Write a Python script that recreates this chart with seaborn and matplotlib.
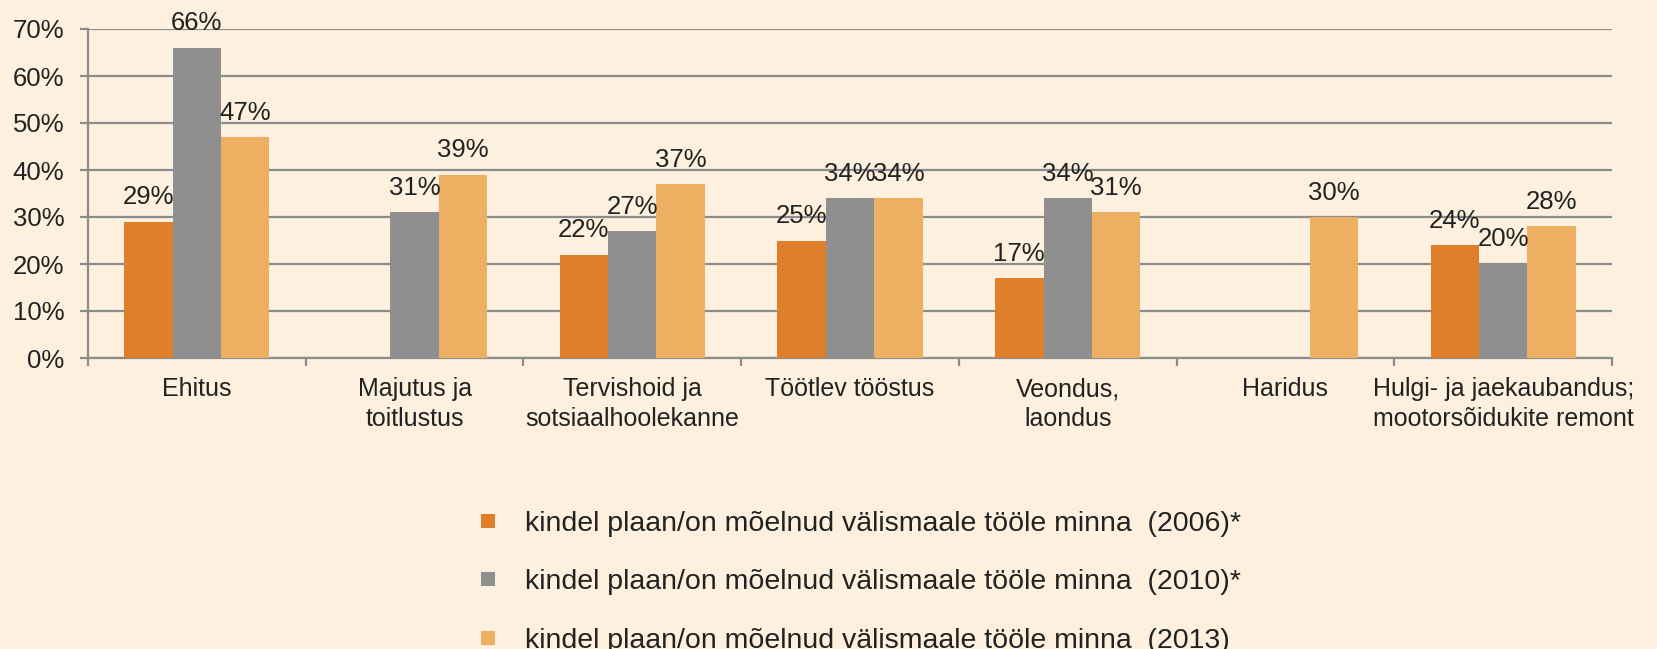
import numpy as np
import pandas as pd
import matplotlib
matplotlib.use("Agg")
import matplotlib.pyplot as plt
from matplotlib.lines import Line2D
from matplotlib.ticker import FuncFormatter, FixedLocator
import seaborn as sns

# Data
CATEGORIES = ["Ehitus", "Majutus ja\ntoitlustus", "Tervishoid ja\nsotsiaalhoolekanne",
              "Töötlev tööstus", "Veondus,\nlaondus", "Haridus",
              "Hulgi- ja jaekaubandus;\nmootorsõidukite remont"]
SERIES = ["kindel plaan/on mõelnud välismaale tööle minna  (2006)*",
          "kindel plaan/on mõelnud välismaale tööle minna  (2010)*",
          "kindel plaan/on mõelnud välismaale tööle minna  (2013)"]
VALUES_2006 = [29, np.nan, 22, 25, 17, np.nan, 24]
VALUES_2010 = [66, 31, 27, 34, 34, np.nan, 20]
VALUES_2013 = [47, 39, 37, 34, 31, 30, 28]
Y_TICKS = [0, 10, 20, 30, 40, 50, 60, 70]

COLORS = ["#DF7F2C", "#8F8F8F", "#EDB063"]
BG = "#FDF0DE"
GRID = "#8C8C8C"
TXT = "#222222"

df = pd.DataFrame({
    "category": CATEGORIES * 3,
    "series": [SERIES[0]] * 7 + [SERIES[1]] * 7 + [SERIES[2]] * 7,
    "value": VALUES_2006 + VALUES_2010 + VALUES_2013,
})

sns.set_style("white")
plt.rcParams["font.family"] = ["Liberation Sans", "DejaVu Sans"]

fig = plt.figure(figsize=(16.57, 6.49), dpi=100, facecolor=BG)
ax = fig.add_axes([88 / 1657, 1 - 358 / 649, (1612 - 88) / 1657, (358 - 29) / 649])
ax.set_facecolor(BG)

sns.barplot(data=df, x="category", y="value", hue="series", order=CATEGORIES,
            hue_order=SERIES, palette=COLORS, width=0.667, gap=0, saturation=1,
            linewidth=0, legend=False, ax=ax, zorder=3)

# value labels above bars
for cont in ax.containers:
    for bar in cont:
        h = bar.get_height()
        if np.isnan(h) or h == 0:
            continue
        ax.annotate(f"{h:.0f}%", (bar.get_x() + bar.get_width() / 2, h),
                    xytext=(0, 9), textcoords="offset points", ha="center",
                    va="bottom", fontsize=18.5, color=TXT, zorder=5,
                    annotation_clip=False)

ax.set_xlim(-0.5, 6.5)
ax.set_ylim(0, 70)
ax.set_yticks(Y_TICKS)
ax.yaxis.set_major_formatter(FuncFormatter(lambda v, p: f"{v:.0f}%"))
ax.grid(axis="y", color=GRID, linewidth=1.6, zorder=0)
ax.set_axisbelow(True)
ax.set_xlabel("")
ax.set_ylabel("")

for s in ["top", "right"]:
    ax.spines[s].set_visible(False)
for s in ["left", "bottom"]:
    ax.spines[s].set_color(GRID)
    ax.spines[s].set_linewidth(1.6)

ax.tick_params(axis="y", length=6, width=1.6, color=GRID, labelsize=18.5,
               labelcolor=TXT, pad=11, left=True)
ax.tick_params(axis="x", which="major", length=0, labelsize=18,
               labelcolor=TXT, pad=14)
ax.xaxis.set_minor_locator(FixedLocator(np.arange(-0.5, 7, 1)))
ax.tick_params(axis="x", which="minor", length=6, width=1.6, color=GRID,
               bottom=True)
for lab in ax.get_xticklabels():
    lab.set_linespacing(1.3)

handles = [Line2D([], [], marker="s", linestyle="", markersize=9.4,
                  markerfacecolor=c, markeredgewidth=0) for c in COLORS]
fig.legend(handles, SERIES, loc="upper left",
           bbox_to_anchor=(474 / 1657, 1 - 511 / 649), frameon=False,
           fontsize=20.5, labelcolor=TXT, handlelength=1.0, handletextpad=0.8,
           labelspacing=1.14, borderaxespad=0, borderpad=0)

fig.savefig("out.png", dpi=100, facecolor=BG)
